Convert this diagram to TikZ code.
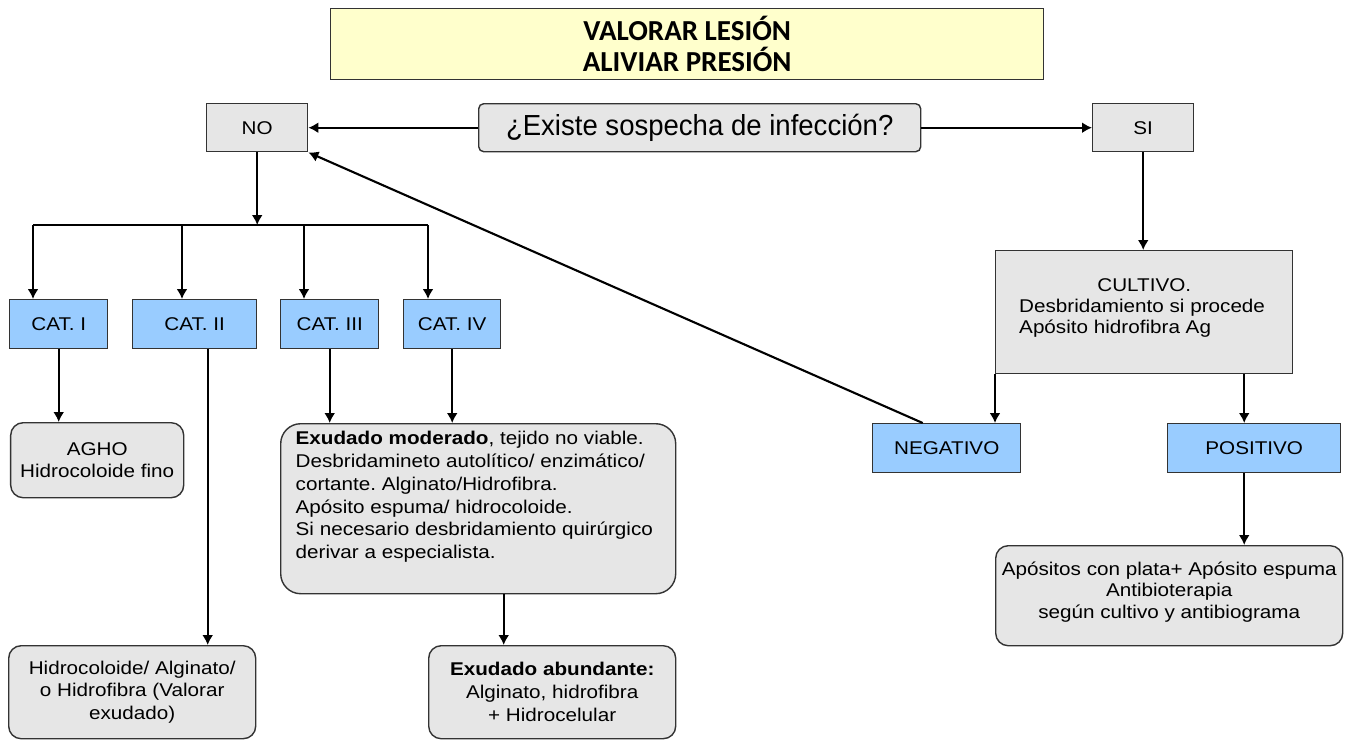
\documentclass[tikz,border=0pt]{standalone}
\usepackage{fontspec}
\setmainfont[FakeStretch=1.12]{Liberation Sans}
\newfontfamily\headfont{Carlito}
\newfontfamily\askfont[FakeStretch=0.95]{Liberation Sans}
\usetikzlibrary{arrows.meta}
\usetikzlibrary{positioning,calc}
\definecolor{boxgrey}{HTML}{E6E6E6}
\definecolor{boxblue}{HTML}{99CCFF}
\definecolor{boxyellow}{HTML}{FFFFCC}
\definecolor{boxline}{HTML}{333333}
\frenchspacing
\tikzset{
    boxBase/.style={
    ,   draw=boxline
    ,   line width=0.8pt
    ,   anchor=north west
    ,   inner sep=0pt
    ,   align=center
    ,   text=black
    },
    boxSize/.style 2 args={
    ,   minimum width=#1cm
    ,   minimum height=#2cm
    },
    greyBox/.style={
    ,   boxBase
    ,   fill=boxgrey
    },
    blueBox/.style={
    ,   boxBase
    ,   fill=boxblue
    },
    roundBox/.style={
    ,   greyBox
    ,   rounded corners=#1
    },
    roundBox/.default=0.25cm,
    headBox/.style={
    ,   boxBase
    ,   fill=boxyellow
    ,   font={\headfont\bfseries\fontsize{16.5pt}{17.6pt}\selectfont}
    }
}

\begin{document}
\begin{tikzpicture}[->,>={Latex[length=2mm, width=2.2mm]}
		,line width=1.2pt
		,font={\fontsize{10.5pt}{13pt}\selectfont}]
		\useasboundingbox (0,0) rectangle (27.02,-14.8);

		\node[headBox, boxSize={14.26}{1.42}] (valorar) at (6.6,-0.16) {VALORAR LESIÓN\\ALIVIAR PRESIÓN};

		\node[greyBox, boxSize={2.02}{0.96}] (no) at (4.12,-2.06) {NO};
		\node[roundBox=0.1cm, boxSize={8.84}{0.96}
			,font={\askfont\fontsize{16.5pt}{18pt}\selectfont}] (sospecha) at (9.56,-2.06) {¿Existe sospecha de infección?};
		\node[greyBox, boxSize={2.02}{0.96}] (si) at (21.84,-2.06) {SI};

		\foreach \n/\x/\w/\t in {1/0.18/1.96/I, 2/2.64/2.48/II, 3/5.6/1.96/III, 4/8.06/1.94/IV}{
			\node[blueBox, boxSize={\w}{0.98}] (cat\n) at (\x,-5.98) {CAT. \t};
		}

		\node[roundBox, boxSize={3.46}{1.5}] (agho) at (0.2,-8.44) {AGHO\\Hidrocoloide fino};
		\node[roundBox, boxSize={4.94}{1.86}] (hidro) at (0.16,-12.9) {Hidrocoloide/ Alginato/\\o Hidrofibra (Valorar\\exudado)};
		\node[roundBox=0.4cm, boxSize={7.9}{3.4}] (moderado) at (5.6,-8.46) {\parbox[c][3.1cm][t]{7.3cm}{\raggedright
			\textbf{Exudado moderado}, tejido no viable.\\
			Desbridamineto autolítico/ enzimático/\\
			cortante. Alginato/Hidrofibra.\\
			Apósito espuma/ hidrocoloide.\\
			Si necesario desbridamiento quirúrgico\\
			derivar a especialista.}};
		\node[roundBox, boxSize={4.94}{1.86}] (abundante) at (8.56,-12.9) {\textbf{Exudado abundante:}\\Alginato, hidrofibra\\+ Hidrocelular};

		\node[greyBox, boxSize={5.94}{2.46}] (cultivo) at (19.9,-5.0) {\parbox[c][1.36cm][t]{5.0cm}{\fontsize{10.5pt}{12pt}\selectfont
			\centering CULTIVO.\par
			\raggedright Desbridamiento si procede\\Apósito hidrofibra Ag}};
		\node[blueBox, boxSize={2.96}{0.98}] (negativo) at (17.44,-8.46) {NEGATIVO};
		\node[blueBox, boxSize={3.46}{0.98}] (positivo) at (23.34,-8.46) {POSITIVO};
		\node[roundBox, boxSize={6.94}{2.0}] (plata) at (19.9,-10.9) {\parbox[c][1.36cm][t]{6.9cm}{\fontsize{10.5pt}{12.3pt}\selectfont\centering
			Apósitos con plata+ Apósito espuma\\Antibioterapia\\según cultivo y antibiograma}};

		% reparto a las categorias
		\foreach \n/\x in {1/0.66, 2/3.64, 3/6.08, 4/8.56}{
			\coordinate (bus\n) at (\x,-4.5);
		}
		\coordinate (split) at (no.south |- bus1);
		\draw[-] (bus1) -- (bus4);
		\draw (no) -- (split);
		\foreach \n in {1,...,4}{
			\draw (bus\n) -- (bus\n |- cat\n.north);
		}

		\path (sospecha) edge (no)
				(sospecha) edge (si);
		\draw (cat1) -- (cat1 |- agho.north);
		\draw ([xshift=0.26cm]cat2.south) -- ([xshift=0.26cm]cat2.south |- hidro.north);
		\draw (cat3) -- (cat3 |- moderado.north);
		\draw (cat4) -- (cat4 |- moderado.north);
		\draw ([xshift=0.51cm]moderado.south) -- ([xshift=0.51cm]moderado.south |- abundante.north);

		\draw (si) -- (si |- cultivo.north);
		\draw (cultivo.south west) -- (cultivo.south west |- negativo.north);
		\draw ([xshift=-0.2cm]positivo.north |- cultivo.south) -- ([xshift=-0.2cm]positivo.north);
		\draw ([xshift=-0.2cm]positivo.south) -- ([xshift=-0.2cm]positivo.south |- plata.north);
		\draw ([xshift=-0.48cm]negativo.north) -- (no.south east);
\end{tikzpicture}
\end{document}
